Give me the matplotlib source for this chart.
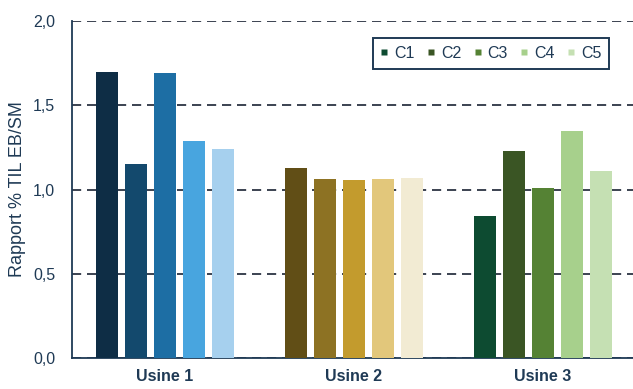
import matplotlib
matplotlib.use("Agg")
import matplotlib.pyplot as plt
from matplotlib.lines import Line2D
import numpy as np

plt.rcParams['font.family'] = ['Liberation Sans', 'DejaVu Sans']

groups = ["Usine 1", "Usine 2", "Usine 3"]
series = ["C1", "C2", "C3", "C4", "C5"]
values = {
    "Usine 1": [1.70, 1.15, 1.69, 1.29, 1.24],
    "Usine 2": [1.13, 1.065, 1.055, 1.06, 1.07],
    "Usine 3": [0.845, 1.23, 1.01, 1.345, 1.11],
}
colors = {
    "Usine 1": ["#0e2d45", "#13496d", "#1d6ea4", "#48a5df", "#a6d0ee"],
    "Usine 2": ["#614e16", "#8d7223", "#c39b2d", "#e2c77b", "#f2ebd3"],
    "Usine 3": ["#0d4b31", "#3a5524", "#558234", "#a7d08c", "#c5e0b3"],
}
yticks = [0.0, 0.5, 1.0, 1.5, 2.0]
ytick_labels = ["0,0", "0,5", "1,0", "1,5", "2,0"]
ylabel = "Rapport % TIL EB/SM"

navy = "#1f3a55"

fig = plt.figure(figsize=(6.33, 3.89), dpi=100)
ax = fig.add_axes([0.1137, 0.0797, 0.8863, 0.8663])

bw = 0.117
step = 0.153
x = np.arange(len(groups))
for gi, g in enumerate(groups):
    for si in range(len(series)):
        off = (si - 2) * step
        ax.bar(x[gi] + off, values[g][si], width=bw, color=colors[g][si], zorder=3)

ax.set_xlim(-0.492, 2.476)
ax.set_ylim(0, 2.0)
ax.set_yticks(yticks)
ax.set_yticklabels(ytick_labels)
ax.set_xticks(x)
ax.set_xticklabels(groups, fontweight="bold")
ax.tick_params(axis="y", length=0, labelsize=11.5, colors=navy, pad=12)
ax.tick_params(axis="x", length=0, labelsize=11.5, colors=navy, pad=8)
ax.set_ylabel(ylabel, fontsize=13, color=navy, labelpad=5)

for s in ["top", "right"]:
    ax.spines[s].set_visible(False)
for s in ["left", "bottom"]:
    ax.spines[s].set_color(navy)
    ax.spines[s].set_linewidth(1.3)

ax.yaxis.grid(True, linestyle=(0, (5.5, 3.5)), color="#1a2233", linewidth=1.2, zorder=1)
ax.set_axisbelow(True)

handles = [Line2D([], [], marker="s", linestyle="none", markersize=4.6,
                  markerfacecolor=c, markeredgecolor="none") for c in colors["Usine 3"]]
leg = ax.legend(handles, series, ncol=5, loc="upper right",
                bbox_to_anchor=(0.958, 0.95), borderaxespad=0,
                fontsize=11.5,
                handlelength=0.45, handletextpad=0.4,
                columnspacing=0.8, frameon=True, fancybox=False,
                borderpad=0.5, labelcolor=navy)
leg.get_frame().set_edgecolor(navy)
leg.get_frame().set_linewidth(1.4)
leg.get_frame().set_alpha(1)

fig.savefig("out.png", dpi=100)
